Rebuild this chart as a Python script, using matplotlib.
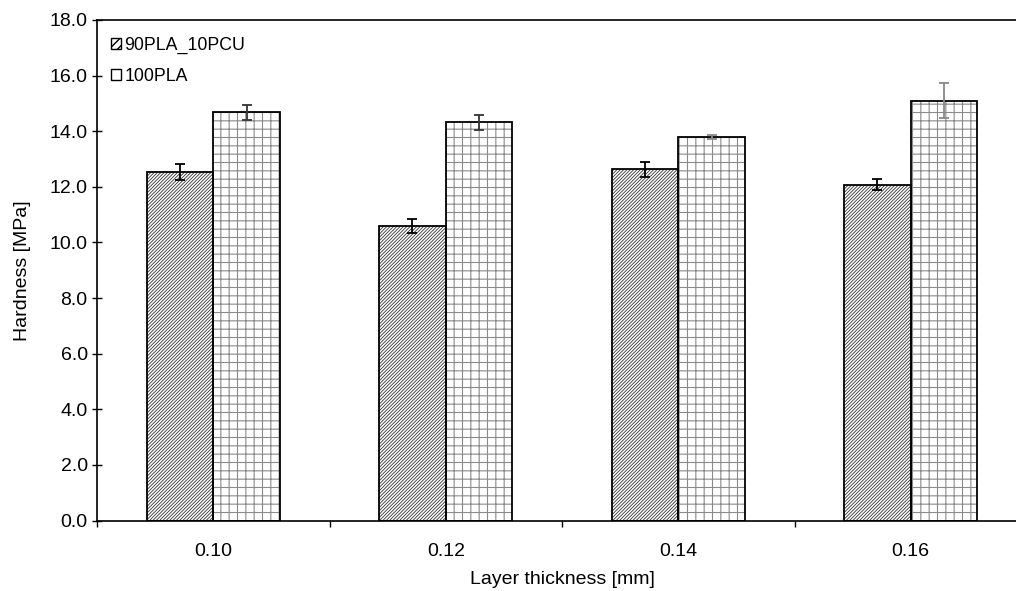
import numpy as np
import matplotlib.pyplot as plt
from matplotlib.patches import Patch

plt.rcParams['font.family'] = ['Liberation Sans', 'DejaVu Sans']

# data
kategorien = ["0.10", "0.12", "0.14", "0.16"]
serien = ["90PLA_10PCU", "100PLA"]
werte_pcu = [12.53, 10.60, 12.63, 12.07]
fehler_pcu = [0.30, 0.26, 0.27, 0.20]
werte_pla = [14.69, 14.33, 13.80, 15.09]
fehler_pla = [0.27, 0.27, 0.07, 0.63]

fehlerfarbe_pcu = ["black", "black", "black", "black"]
fehlerfarbe_pla = ["#333333", "#333333", "#888888", "#888888"]

fig = plt.figure(figsize=(10.16, 5.91), dpi=100)
ax = fig.add_axes([97 / 1016, 70.5 / 591, 930 / 1016, 500.5 / 591])

x = np.arange(len(kategorien)) + 1
breite = 0.287

stile = [
    dict(hatch="//////////", farbe="#333333", lw=0.6),
    dict(hatch="++", farbe="#8a8a8a", lw=0.8),
]

for i, (werte, fehler, ffarben) in enumerate(
        [(werte_pcu, fehler_pcu, fehlerfarbe_pcu),
         (werte_pla, fehler_pla, fehlerfarbe_pla)]):
    pos = x + (i - 0.5) * breite
    # hatch layer
    with plt.rc_context({"hatch.linewidth": stile[i]["lw"]}):
        ax.bar(pos, werte, breite, color="white", edgecolor=stile[i]["farbe"],
               hatch=stile[i]["hatch"], linewidth=0, zorder=2)
    # outline
    ax.bar(pos, werte, breite, fill=False, edgecolor="black",
           linewidth=1.3, zorder=3)
    for p, w, f, c in zip(pos, werte, fehler, ffarben):
        ax.errorbar(p, w, yerr=f, fmt="none", ecolor=c, elinewidth=1.3,
                    capsize=3.5, capthick=1.3, zorder=4)

ax.set_xlim(0.5, 4.5)
ax.set_ylim(0, 18)
ax.set_yticks(np.arange(0, 18.1, 2))
ax.set_yticklabels([f"{v:.1f}" for v in np.arange(0, 18.1, 2)])
ax.set_xticks(x)
ax.set_xticklabels(kategorien)
ax.set_xticks(np.arange(0.5, 4.6, 1), minor=True)

ax.tick_params(axis="x", which="major", length=0, labelsize=14, pad=16)
ax.tick_params(axis="x", which="minor", direction="out", length=4.5, width=1.0)
ax.tick_params(axis="y", direction="inout", length=6.5, width=1.0, labelsize=14)

for s in ["left", "bottom", "top"]:
    ax.spines[s].set_linewidth(1.2)
ax.spines["right"].set_visible(False)

ax.set_xlabel("Layer thickness [mm]", fontsize=14, labelpad=8)
ax.set_ylabel("Hardness [MPa]", fontsize=14, labelpad=13)

# legend with small hatched squares
with plt.rc_context({"hatch.linewidth": 0.6}):
    griffe = [Patch(facecolor="white", edgecolor="black", hatch="////", linewidth=1.0),
              Patch(facecolor="white", edgecolor="black", linewidth=1.0)]
ax.legend(griffe, serien, loc="upper left", bbox_to_anchor=(-0.002, 0.998),
          frameon=False, fontsize=12.8, handlelength=0.55, handleheight=0.55,
          handletextpad=0.2, labelspacing=0.75, borderaxespad=0.5)

plt.savefig("out.png", dpi=100)
plt.close()
